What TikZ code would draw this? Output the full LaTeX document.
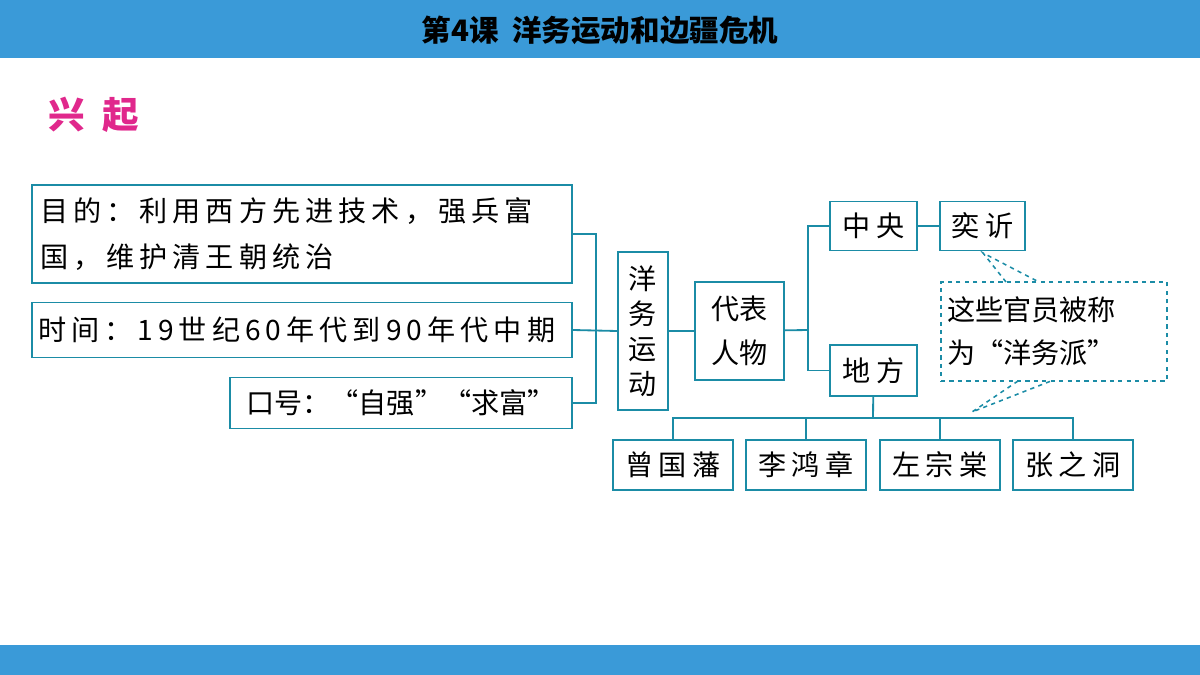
\documentclass[tikz,border=0pt]{standalone}
\usepackage{fontspec}
\setmainfont{Noto Sans CJK SC}
\newfontfamily\spaced[LetterSpace=18]{Noto Sans CJK SC}
\usetikzlibrary{positioning}
\definecolor{barblue}{HTML}{3A9AD8}
\definecolor{boxline}{HTML}{1B8CA6}
\definecolor{titlepink}{HTML}{E0288C}
\tikzset{box/.style={draw=boxline, line width=1.3pt, inner sep=0pt, font=\spaced\fontsize{20}{26}\selectfont},
  link/.style={draw=boxline, line width=1.3pt},
  hint/.style={draw=boxline, line width=1.1pt, dashed}}

\begin{document}
\begin{tikzpicture}[x=0.025cm, y=-0.025cm]
    \useasboundingbox (0,0) rectangle (1200,675);
    \fill[barblue] (0,0) rectangle (1200,58);
    \fill[barblue] (0,645) rectangle (1200,675);
    \node (title) at (600,30) {\fontsize{21}{24}\selectfont\bfseries 第4课\ \ 洋务运动和边疆危机};
    \node[text=titlepink, anchor=west] (start) at (44,115) {\fontsize{26}{30}\selectfont\bfseries 兴\ \ 起};
    % left side
    \node[box, minimum width=540*0.025cm, minimum height=98*0.025cm, text width=524*0.025cm, align=left, font=\spaced\fontsize{20}{33}\selectfont] (aim) at (302,234) {目的：利用西方先进技术，强兵富\\国，维护清王朝统治};
    \node[box, minimum width=540*0.025cm, minimum height=55*0.025cm, text width=528*0.025cm, align=left] (time) at (302,330) {时间：19世纪60年代到90年代中期};
    \node[box, minimum width=342*0.025cm, minimum height=51*0.025cm, font=\fontsize{20}{26}\selectfont] (slogan) at (401,403) {口号：“自强”“求富”};
    \node[box, minimum width=50*0.025cm, minimum height=158*0.025cm, text width=22pt, align=center, font=\fontsize{20}{25}\selectfont] (ywyd) at (643,331) {洋\\务\\运\\动};
    \node[box, minimum width=89*0.025cm, minimum height=98*0.025cm, align=center, font=\fontsize{20}{31}\selectfont] (daibiao) at (739.5,331) {代表\\人物};
    % right side
    \node[box, minimum width=87*0.025cm, minimum height=49*0.025cm] (zhongyang) at (873.5,226) {中央};
    \node[box, minimum width=85*0.025cm, minimum height=49*0.025cm] (yixin) at (982.5,226) {奕䜣};
    \node[box, minimum width=87*0.025cm, minimum height=51*0.025cm] (difang) at (873.5,370.5) {地方};
    \node[hint, minimum width=226*0.025cm, minimum height=99*0.025cm, text width=214*0.025cm, align=left, font=\fontsize{20}{31}\selectfont] (note) at (1054,331.5) {这些官员被称\\为“洋务派”};
    \node[box, minimum width=120*0.025cm, minimum height=50*0.025cm] (zeng) at (673,465) {曾国藩};
    \node[box, minimum width=120*0.025cm, minimum height=50*0.025cm] (li) at (806,465) {李鸿章};
    \node[box, minimum width=120*0.025cm, minimum height=50*0.025cm] (zuo) at (940,465) {左宗棠};
    \node[box, minimum width=120*0.025cm, minimum height=50*0.025cm] (zhang) at (1073,465) {张之洞};
    \coordinate (lsplit) at (596,330);
    \coordinate (rsplit) at (808,330);
    \coordinate (bsplit) at (873,418);
    \coordinate (tip1) at (983,253);
    \coordinate (tip2) at (972,412);
    % connectors
    \draw[link] (aim.east) -| (lsplit) (slogan.east) -| (lsplit) (time.east) -- (ywyd.west);
    \draw[link] (ywyd) -- (daibiao) (daibiao) -- (rsplit);
    \draw[link] (zhongyang.west) -| (rsplit) |- (difang.west);
    \draw[link] (zhongyang) -- (yixin);
    \draw[link] (difang) -- (bsplit);
    \foreach \p in {zeng,li,zuo,zhang}
        \draw[link] (bsplit) -| (\p.north);
    \draw[hint] (1006,282) -- (tip1) -- (1039,282);
    \draw[hint] (1018,381) -- (tip2) -- (1051,381);
\end{tikzpicture}
\end{document}
